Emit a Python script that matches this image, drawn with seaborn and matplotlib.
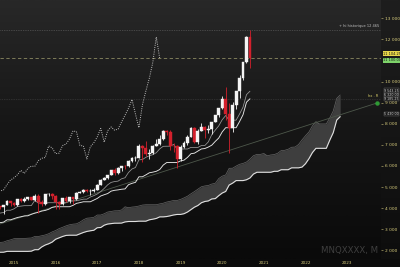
import numpy as np
import pandas as pd
import matplotlib
matplotlib.use("Agg")
import matplotlib.pyplot as plt
import matplotlib.transforms as mtransforms
import seaborn as sns
from matplotlib.colors import LinearSegmentedColormap

# ---------------- data (month index: 0 = Jan 2015) ----------------
hist_start = -84  # Jan 2008, only used by the Ichimoku look-back windows
hist_high = [2080, 1850, 1820, 1980, 2060, 2040, 1900, 1970, 1880, 1600, 1370, 1240,
             1300, 1290, 1290, 1430, 1500, 1530, 1630, 1660, 1740, 1780, 1790, 1890,
             1890, 1820, 1960, 2040, 2030, 1960, 1870, 1910, 2010, 2110, 2150, 2230,
             2270, 2350, 2340, 2420, 2430, 2400, 2440, 2370, 2300, 2420, 2410, 2340,
             2490, 2670, 2780, 2795, 2740, 2640, 2680, 2800, 2880, 2830, 2680, 2740,
             2780, 2790, 2830, 2900, 3040, 3020, 3110, 3130, 3220, 3380, 3490, 3600,
             3630, 3730, 3740, 3640, 3740, 3860, 3990, 4090]
hist_low = [1680, 1730, 1690, 1760, 1950, 1830, 1740, 1810, 1490, 1150, 1043, 1080,
            1160, 1110, 1018, 1210, 1370, 1440, 1400, 1560, 1580, 1680, 1680, 1780,
            1740, 1690, 1820, 1920, 1700, 1730, 1730, 1750, 1770, 1990, 2060, 2110,
            2180, 2240, 2210, 2320, 2320, 2220, 2320, 2040, 2100, 2040, 2170, 2230,
            2300, 2480, 2640, 2640, 2500, 2450, 2520, 2630, 2740, 2640, 2500, 2610,
            2660, 2690, 2730, 2740, 2880, 2870, 2910, 3030, 3090, 3170, 3350, 3450,
            3490, 3460, 3540, 3410, 3540, 3710, 3850, 3880]

candle_start = -4  # Sep 2014
opens = [4083, 4049, 4158, 4337,
         4236, 4151, 4443, 4334, 4415, 4509, 4397, 4589, 4275, 4181, 4648, 4665,
         4593, 4280, 4202, 4483, 4341, 4523, 4418, 4730, 4771, 4875, 4801, 4810,
         4864, 5118, 5330, 5436, 5584, 5788, 5647, 5880, 5988, 5980, 6248, 6365,
         6397, 6950, 6855, 6581, 6605, 6967, 7040, 7272, 7660, 7627, 6967, 6949,
         6330, 6906, 7096, 7378, 7781, 7127, 7671, 7848, 7692, 7750, 8084, 8404,
         8733, 9151, 8462, 7813, 8890, 9555, 10157, 10905, 12111]
highs = [4120, 4170, 4390, 4360,
         4310, 4450, 4490, 4530, 4530, 4540, 4650, 4690, 4390, 4660, 4720, 4700,
         4610, 4330, 4500, 4570, 4530, 4550, 4750, 4820, 4900, 4900, 4900, 4970,
         5130, 5360, 5480, 5590, 5820, 5900, 5940, 6000, 6030, 6270, 6400, 6490,
         7020, 7010, 7200, 6820, 7010, 7280, 7450, 7690, 7700, 7690, 7110, 7000,
         6970, 7160, 7450, 7850, 7850, 7730, 8030, 7910, 7930, 8100, 8420, 8740,
         9320, 9720, 8970, 9030, 9560, 10300, 10950, 12140, 12465]
lows = [3980, 3700, 4150, 4120,
        4080, 4090, 4300, 4280, 4390, 4390, 4340, 3790, 4080, 4130, 4570, 4420,
        3970, 3950, 4150, 4310, 4240, 4210, 4390, 4700, 4710, 4770, 4620, 4780,
        4850, 5110, 5310, 5360, 5560, 5580, 5620, 5760, 5870, 5970, 6200, 6240,
        6390, 6170, 6470, 6340, 6560, 6950, 7000, 7250, 7450, 6750, 6650, 5905.5,
        6250, 6870, 6980, 7370, 7110, 7060, 7640, 7330, 7570, 7530, 8070, 8300,
        8710, 8200, 6621.5, 7600, 8680, 9220, 10070, 10880, 10650]
closes = [4049, 4158, 4337, 4236,
          4151, 4443, 4334, 4415, 4509, 4397, 4589, 4275, 4181, 4648, 4665, 4593,
          4280, 4202, 4483, 4341, 4523, 4418, 4730, 4771, 4875, 4801, 4810, 4864,
          5118, 5330, 5436, 5584, 5788, 5647, 5880, 5988, 5980, 6248, 6365, 6397,
          6950, 6855, 6581, 6605, 6967, 7040, 7272, 7660, 7627, 6967, 6949, 6330,
          6906, 7096, 7378, 7781, 7127, 7671, 7848, 7692, 7750, 8084, 8404, 8733,
          9151, 8462, 7813, 8890, 9555, 10157, 10905, 12111, 11100]

year_labels = ["2015", "2016", "2017", "2018", "2019", "2020", "2021", "2022", "2023"]
year_months = [0, 12, 24, 36, 48, 60, 72, 84, 96]
# 11 000 is hidden behind the price boxes in the reference
price_ticks = [2000, 3000, 4000, 5000, 6000, 7000, 8000, 9000, 10000, 12000, 13000]

all_time_high = 12465
last_price = 11100
price_box_texts = ["11 104.25", "11 100.00"]
trend_months = [-4.03, 104.6]
trend_values = [3247, 8984]
trend_label = "hx . R"
ath_label = "+ hi historique 12 465"
watermark = "MNQXXXX, M"

# ---------------- indicator computation ----------------
n_c = len(closes)
cidx = np.arange(candle_start, candle_start + n_c)
hidx = np.arange(hist_start, hist_start + len(hist_high))
high_all = pd.Series(hist_high + highs, index=np.concatenate([hidx, cidx]))
low_all = pd.Series(hist_low + lows, index=np.concatenate([hidx, cidx]))

def mid(n):
    return (high_all.rolling(n).max() + low_all.rolling(n).min()) / 2

tenkan = mid(9)
kijun = mid(26)
span_a = (tenkan + kijun) / 2
span_a.index = span_a.index + 26
span_b = mid(52)
span_b.index = span_b.index + 26
close_s = pd.Series(closes, index=cidx)
chikou = close_s.copy()
chikou.index = chikou.index - 26

vis = lambda s: s[(s.index >= -8)].dropna()
tenkan_v, kijun_v, span_a_v, span_b_v, chikou_v = map(vis, [tenkan, kijun, span_a, span_b, chikou])

# ---------------- figure ----------------
sns.set_theme(style="dark")
plt.rcParams["font.family"] = ["DejaVu Sans"]
W, H = 400, 267
fig = plt.figure(figsize=(W / 100, H / 100), dpi=100, facecolor="#0b0b0b")

ax_l, ax_b, ax_w, ax_h = 0, 8 / H, 381 / W, 259 / H
panel = fig.add_axes([ax_w, ax_b, 1 - ax_w, ax_h])
panel.set_zorder(0)
ax = fig.add_axes([ax_l, ax_b, ax_w, ax_h])
ax.set_zorder(1)

cm_main = LinearSegmentedColormap.from_list("bg", ["#0a0a0a", "#161616", "#282828"])
grad = np.linspace(0, 1, 256).reshape(-1, 1)
panel.imshow(grad, aspect="auto", cmap=LinearSegmentedColormap.from_list("p", ["#0d0d0d", "#1e1e1e"]),
             origin="lower", extent=[0, 1, 0, 1])
panel.set_axis_off()

xlim = (-4.03, 105.76)
ylim = (1587, 13868)
ax.imshow(grad, aspect="auto", cmap=cm_main, origin="lower",
          extent=[xlim[0], xlim[1], ylim[0], ylim[1]], zorder=0)
ax.set_xlim(*xlim)
ax.set_ylim(*ylim)

# cloud
ax.fill_between(span_a_v.index, span_a_v.values, span_b_v.reindex(span_a_v.index).values,
                color="#3e3e3e", lw=0, zorder=1)
sns.lineplot(x=span_a_v.index, y=span_a_v.values, ax=ax, color="#666666", lw=0.5, zorder=2)
sns.lineplot(x=span_b_v.index, y=span_b_v.values, ax=ax, color="#e0e0e0", lw=0.8, zorder=2)

# trend line
sns.lineplot(x=trend_months, y=trend_values, ax=ax, color="#4d574a", lw=0.6, zorder=2)
ax.plot(trend_months[1], trend_values[1], "o", ms=2.2, color="#2f9a35", zorder=6, clip_on=False)
ax.text(trend_months[1] + 0.3, trend_values[1] + 330, trend_label, color="#d8cf6a",
        fontsize=2.6, ha="right", va="center", zorder=6)

# horizontal levels
ax.axhline(all_time_high, color="#6a6a6a", lw=0.5, ls=(0, (1, 1.5)), zorder=2)
ax.axhline(kijun.iloc[-1], color="#454545", lw=0.5, ls=(0, (1, 1.5)), zorder=2)
ax.axhline(last_price, color="#8c8a62", lw=0.6, ls=(0, (4, 3)), zorder=2)
ax.text(105.2, all_time_high + 90, ath_label, color="#bdbdbd", fontsize=2.6,
        ha="right", va="bottom", zorder=6)

# chikou
sns.lineplot(x=chikou_v.index, y=chikou_v.values, ax=ax, color="#c0c0c0", lw=0.7,
             linestyle=(0, (1, 1.3)), zorder=3)
# tenkan / kijun
sns.lineplot(x=tenkan_v.index, y=tenkan_v.values, ax=ax, color="#9a9a9a", lw=0.55, zorder=3)
sns.lineplot(x=kijun_v.index, y=kijun_v.values, ax=ax, color="#e6e6e6", lw=0.65, zorder=3)

# candles
o = np.array(opens, float); c = np.array(closes, float)
hi = np.array(highs, float); lo = np.array(lows, float)
up = c >= o
col = np.where(up, "#f4f4f4", "#d3202c")
ax.vlines(cidx, lo, hi, colors=col, lw=0.6, zorder=4)
ax.bar(cidx, np.abs(c - o), bottom=np.minimum(o, c), width=0.82, color=col,
       edgecolor=col, lw=0.3, zorder=5)

# watermark
ax.text(0.992, 0.033, watermark, transform=ax.transAxes, color="#3f3f3f", fontsize=6.2,
        ha="right", va="center", zorder=1)

# axes styling
for s in ax.spines.values():
    s.set_visible(False)
ax.grid(False)
ax.set_xlabel(""); ax.set_ylabel("")
ax.set_xticks(year_months)
ax.set_xticklabels(year_labels)
ax.yaxis.tick_right()
ax.set_yticks(price_ticks)
ax.set_yticklabels([f"{v:,}".replace(",", " ") for v in price_ticks])
ax.tick_params(axis="y", colors="#cfc47a", labelsize=3.2, length=1.5, width=0.4, pad=1.5,
               labelcolor="#d6cb7c")
ax.tick_params(axis="x", colors="#cfc47a", labelsize=3.0, length=0, pad=1.2,
               labelcolor="#d6cb7c")
ax.axvline(xlim[1], color="#3a3a3a", lw=0.6, zorder=6)

# right side value boxes
tr = mtransforms.blended_transform_factory(ax.transAxes, ax.transData)
ax.text(1.006, 11330, price_box_texts[0], transform=tr, fontsize=2.5, color="#111111",
        va="center", ha="left", zorder=7, clip_on=False,
        bbox=dict(boxstyle="square,pad=0.1", fc="#e6d64a", ec="none"))
ax.text(1.006, 11010, price_box_texts[1], transform=tr, fontsize=2.5, color="#111111",
        va="center", ha="left", zorder=7, clip_on=False,
        bbox=dict(boxstyle="square,pad=0.1", fc="#7ed36a", ec="none"))
ind_vals = [tenkan.iloc[-1], span_a.loc[68], kijun.iloc[-1], span_b.loc[68]]
ind_pos = [9570, 9370, 9170, 8460]
for v, p in zip(ind_vals, ind_pos):
    ax.text(1.008, p, f"{v:,.2f}".replace(",", " "), transform=tr, fontsize=2.3,
            color="#d0d0d0", va="center", ha="left", zorder=7, clip_on=False,
            bbox=dict(boxstyle="square,pad=0.08", fc="#1a1a1a", ec="#6a6a6a", lw=0.3))

fig.savefig("out.png", dpi=100, facecolor=fig.get_facecolor())
